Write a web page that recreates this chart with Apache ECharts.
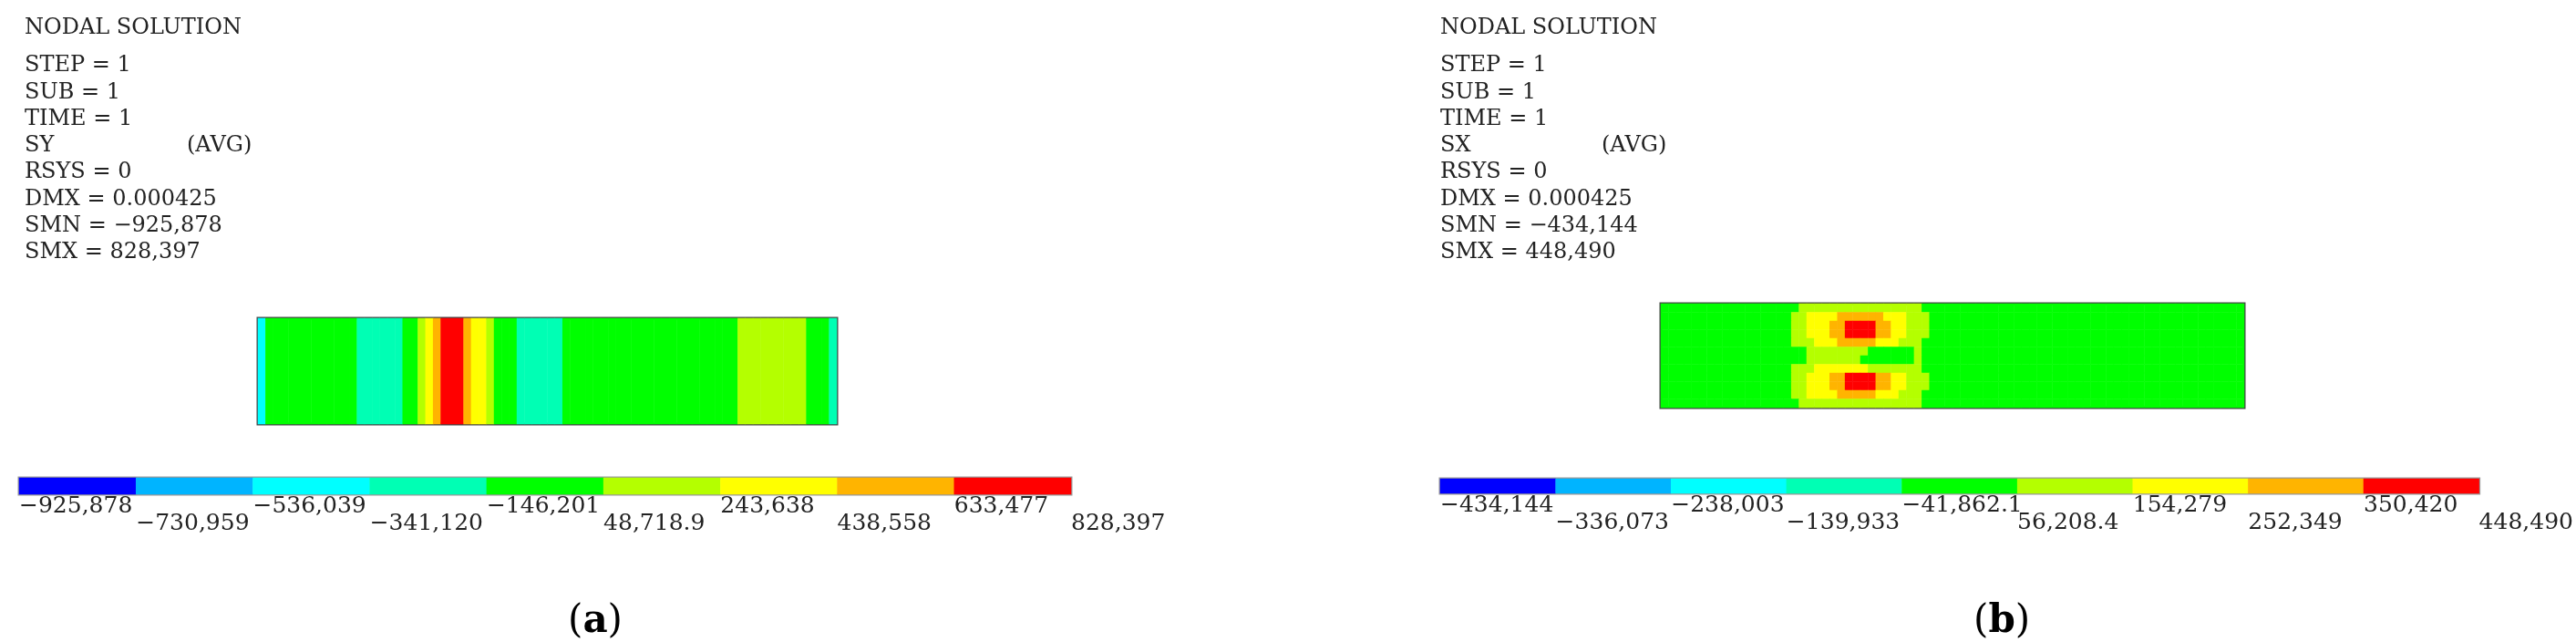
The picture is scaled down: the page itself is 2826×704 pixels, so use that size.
<!DOCTYPE html>
<html>
<head>
<meta charset="utf-8">
<script src="https://cdn.jsdelivr.net/npm/echarts@6/dist/echarts.min.js"></script>
<style>
  html, body { margin: 0; padding: 0; background: #fff; }
  #main { width: 2826px; height: 704px; }
</style>
</head>
<body>
<div id="main"></div>
<script>
// contour level colours (ANSYS 9-band legend)
const levelColors = ['#0000ff', '#00b4ff', '#00ffff', '#00ffb4', '#00ff00', '#b4ff00', '#ffff00', '#ffb400', '#ff0000'];

// legend boundary labels
const labelsA = ['\u2212925,878', '\u2212730,959', '\u2212536,039', '\u2212341,120', '\u2212146,201', '48,718.9', '243,638', '438,558', '633,477', '828,397'];
const labelsB = ['\u2212434,144', '\u2212336,073', '\u2212238,003', '\u2212139,933', '\u221241,862.1', '56,208.4', '154,279', '252,349', '350,420', '448,490'];

// header text
const infoA = ['STEP = 1', 'SUB = 1', 'TIME = 1', 'SY', 'RSYS = 0', 'DMX = 0.000425', 'SMN = \u2212925,878', 'SMX = 828,397'];
const infoB = ['STEP = 1', 'SUB = 1', 'TIME = 1', 'SX', 'RSYS = 0', 'DMX = 0.000425', 'SMN = \u2212434,144', 'SMX = 448,490'];

// panel (a): band level per column, read across the plate (SY varies along x)
const bandsA = '2444444444444333333445678887665444333333444444444444444444444445555555554443';

// panel (b): level rows, top to bottom, 76 columns each (SX has two lobes)
const pad17 = '44444444444444444';
const pad40 = '4444444444444444444444444444444444444444';
const lobeRowsB = [
  '4555555555555555544',
  '5566667777776665554',
  '5566677888877665554',
  '5566677888877665554',
  '5556667777766655544',
  '4455555555444444544',
  '4455555554444444544',
  '5556666666555555544',
  '5566677888877665554',
  '5566677888877665554',
  '5566667777766655544',
  '4555555555555555544'
];
const rowsB = lobeRowsB.map(r => pad17 + r + pad40);

let dataA = [];
for (let i = 0; i < bandsA.length; i++) dataA.push([i, 0, +bandsA[i]]);
let dataB = [];
rowsB.forEach((row, j) => {
  for (let i = 0; i < row.length; i++) dataB.push([i, j, +row[i]]);
});
const legendCells = levelColors.map((c, i) => [i, 0, i]);
const idx = n => Array.from({length: n}, (_, i) => i);

const serif = 'DejaVu Serif';
const chart = echarts.init(document.getElementById('main'));

function header(x, avgX, lines) {
  const st = {fontFamily: serif, fontSize: 24, fontWeight: 'normal', color: '#222'};
  let t = [{text: 'NODAL SOLUTION', left: x, top: 14, textStyle: st}];
  lines.forEach((s, k) => {
    t.push({text: s, left: x, top: 55 + k * 29.3, textStyle: st});
  });
  t.push({text: '(AVG)', left: avgX, top: 55 + 3 * 29.3, textStyle: st});
  return t;
}
function caption(letter, x) {
  return {
    text: '({b|' + letter + '})', left: x, top: 656,
    textStyle: {fontFamily: serif, fontSize: 42, fontWeight: 'normal', color: '#000',
      rich: {b: {fontFamily: serif, fontSize: 42, fontWeight: 'bold', color: '#000'}}}
  };
}

function catAxis(grid, n, extra) {
  return Object.assign({type: 'category', gridIndex: grid, data: idx(n), show: false}, extra || {});
}
function labelAxis(grid, labels) {
  return {
    type: 'value', gridIndex: grid, min: 0, max: 9, interval: 1, position: 'bottom',
    axisLine: {show: false}, axisTick: {show: false}, splitLine: {show: false},
    axisLabel: {
      align: 'left', margin: 4, fontFamily: serif, fontSize: 25, lineHeight: 19, color: '#222',
      showMinLabel: true, showMaxLabel: true,
      formatter: v => (v % 2 ? '\n' : '') + labels[v]
    }
  };
}

chart.setOption({
  animation: false,
  title: header(22, 200, infoA).concat(header(1575, 1752, infoB)).concat([
    caption('a', 618), caption('b', 2160)
  ]),
  grid: [
    {left: 283, top: 349, width: 635, height: 116, show: true, borderColor: '#444', borderWidth: 3},
    {left: 1822, top: 333, width: 640, height: 114, show: true, borderColor: '#444', borderWidth: 3},
    {left: 21, top: 524, width: 1154, height: 18, show: true, borderColor: '#999', borderWidth: 3},
    {left: 1580, top: 525, width: 1159, height: 16, show: true, borderColor: '#999', borderWidth: 3}
  ],
  xAxis: [
    catAxis(0, bandsA.length),
    catAxis(1, rowsB[0].length),
    catAxis(2, 9),
    labelAxis(2, labelsA),
    catAxis(3, 9),
    labelAxis(3, labelsB)
  ],
  yAxis: [
    catAxis(0, 1),
    catAxis(1, rowsB.length, {inverse: true}),
    catAxis(2, 1),
    catAxis(3, 1)
  ],
  visualMap: {
    type: 'piecewise', show: false, dimension: 2,
    pieces: levelColors.map((c, i) => ({value: i, color: c}))
  },
  series: [
    {type: 'heatmap', xAxisIndex: 0, yAxisIndex: 0, data: dataA},
    {type: 'heatmap', xAxisIndex: 1, yAxisIndex: 1, data: dataB},
    {type: 'heatmap', xAxisIndex: 2, yAxisIndex: 2, data: legendCells},
    {type: 'heatmap', xAxisIndex: 4, yAxisIndex: 3, data: legendCells}
  ]
});
</script>
</body>
</html>
